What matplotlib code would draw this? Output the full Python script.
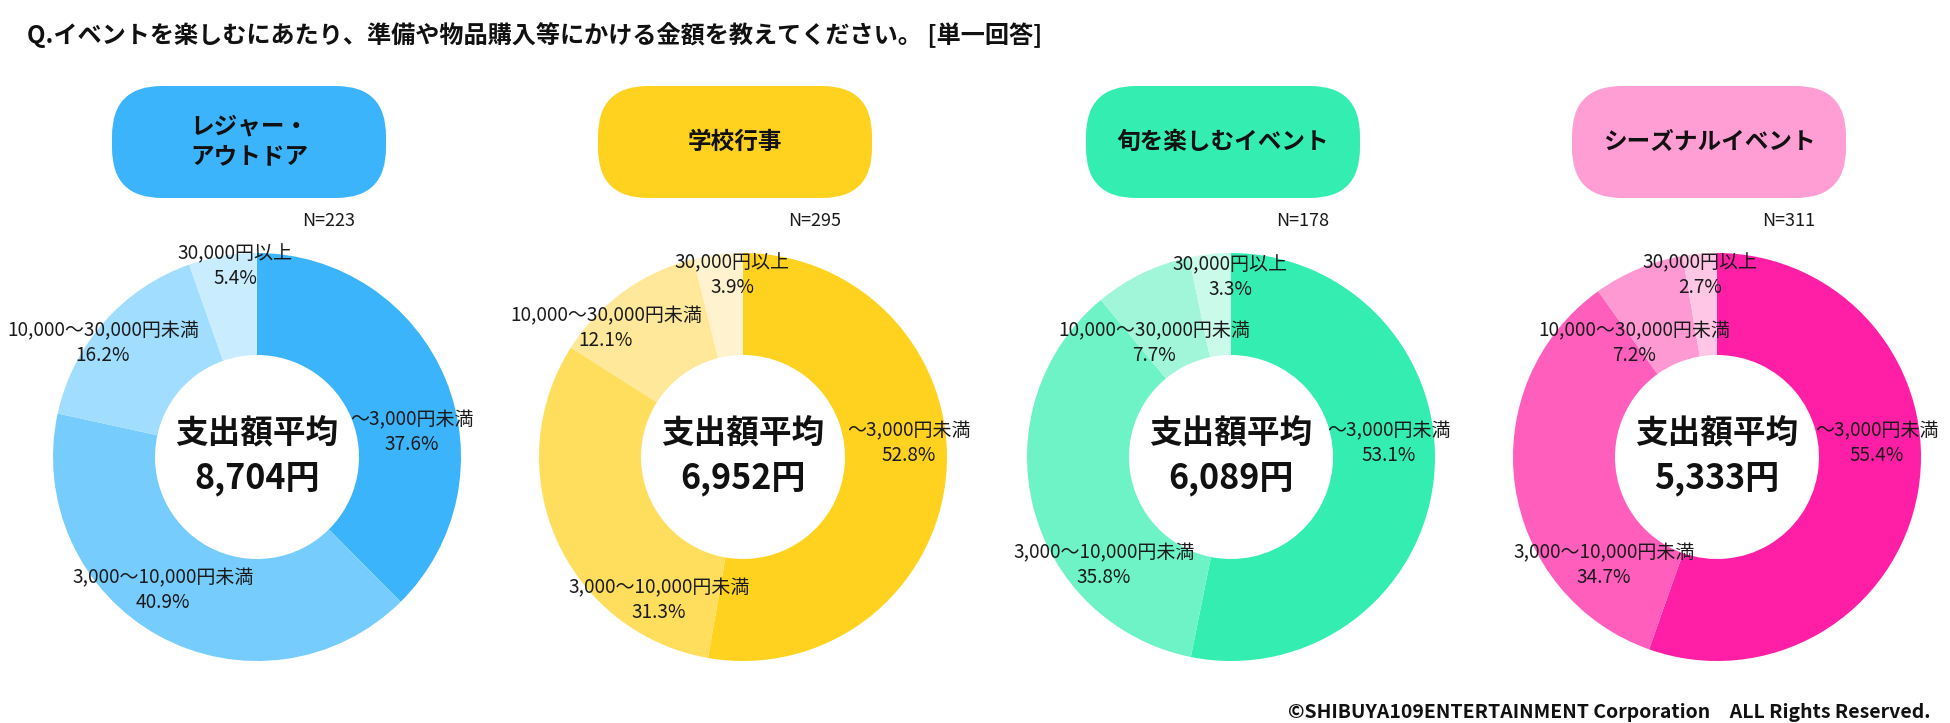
import matplotlib
matplotlib.use("Agg")
import matplotlib.pyplot as plt
from matplotlib.patches import FancyBboxPatch

plt.rcParams['font.family'] = ['Noto Sans CJK JP', 'DejaVu Sans']

# ---------------- data ----------------
title = "Q.イベントを楽しむにあたり、準備や物品購入等にかける金額を教えてください。 [単一回答]"
categories = ["～3,000円未満", "3,000～10,000円未満", "10,000～30,000円未満", "30,000円以上"]
group_names = ["レジャー・\nアウトドア", "学校行事", "旬を楽しむイベント", "シーズナルイベント"]
n_values = [223, 295, 178, 311]
avg_spend = [8704, 6952, 6089, 5333]
leisure = [37.6, 40.9, 16.2, 5.4]
school = [52.8, 31.3, 12.1, 3.9]
shun = [53.1, 35.8, 7.7, 3.3]
seasonal = [55.4, 34.7, 7.2, 2.7]
series = [leisure, school, shun, seasonal]
copyright_text = "©SHIBUYA109ENTERTAINMENT Corporation　ALL Rights Reserved."

# ---------------- styles / layout ----------------
palettes = [
    ["#3CB4FC", "#76CCFD", "#A1DDFE", "#C9ECFE"],
    ["#FFD21F", "#FFDE5D", "#FFE899", "#FFF3CF"],
    ["#33EEB0", "#6EF3C7", "#A1F6DA", "#C9FAEA"],
    ["#FF1FA6", "#FF5EBD", "#FF99D3", "#FFC6E6"],
]
box_colors = ["#3CB4FC", "#FFD21F", "#33EEB0", "#FF9DD5"]

W, H = 1950, 723
centers_x = [257, 743, 1231, 1717]
center_y = 457
R_OUT, R_IN = 204, 102

# label block centers (image pixel coords) per chart, per category
label_pos = [
    [(412, 432), (163, 590), (103, 343), (235, 266)],
    [(909, 443), (659, 600), (606, 328), (732, 275)],
    [(1389, 443), (1104, 565), (1154, 343), (1230, 277)],
    [(1877, 443), (1604, 565), (1634, 343), (1700, 275)],
]

fig = plt.figure(figsize=(W / 100, H / 100), dpi=100)
ax = fig.add_axes([0, 0, 1, 1])

def Y(y):
    return H - y

for i, vals in enumerate(series):
    cx = centers_x[i]
    ax.pie(vals, colors=palettes[i], startangle=90, counterclock=False,
           center=(cx, Y(center_y)), radius=R_OUT,
           wedgeprops=dict(width=R_OUT - R_IN, linewidth=0, edgecolor='none'))
    # labels
    for j, cat in enumerate(categories):
        lx, ly = label_pos[i][j]
        ax.text(lx, Y(ly), f"{cat}\n{vals[j]:.1f}%", ha='center', va='center',
                fontsize=13.7, color='#1a1a1a', linespacing=1.25, multialignment='center')
    # center texts
    ax.text(cx, Y(433), "支出額平均", ha='center', va='center', fontsize=23.5,
            fontweight='bold', color='#111111')
    ax.text(cx, Y(479), f"{avg_spend[i]:,}円", ha='center', va='center', fontsize=24.5,
            fontweight='bold', color='#111111')
    # header box
    bcx = cx - 8
    bw, bh = 274, 112
    box = FancyBboxPatch((bcx - bw / 2, Y(198)), bw, bh,
                         boxstyle="round,pad=0,rounding_size=50",
                         facecolor=box_colors[i], edgecolor='none')
    ax.add_patch(box)
    ax.text(bcx, Y(142), group_names[i], ha='center', va='center', fontsize=17,
            fontweight='bold', color='#111111', linespacing=1.35)
    # N label
    ax.text(cx + 72, Y(221), f"N={n_values[i]}", ha='center', va='center',
            fontsize=13, color='#1a1a1a')

ax.text(27, Y(35), title, ha='left', va='center', fontsize=17.4, fontweight='bold',
        color='#111111')
ax.text(1931, Y(712), copyright_text, ha='right', va='center', fontsize=14,
        fontweight='bold', color='#111111')

ax.set_xlim(0, W)
ax.set_ylim(0, H)
ax.set_aspect('equal')
ax.axis('off')

fig.savefig("out.png", dpi=100, facecolor='white')
